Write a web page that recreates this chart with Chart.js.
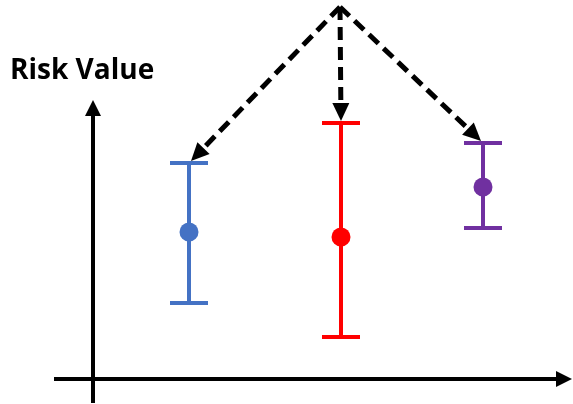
<!DOCTYPE html>
<html>
<head>
<meta charset="utf-8">
<script src="https://cdn.jsdelivr.net/npm/chart.js@4/dist/chart.umd.min.js"></script>
<style>
html, body { margin: 0; padding: 0; background: #fff; }
#wrap { width: 573px; height: 404px; }
</style>
</head>
<body>
<div id="wrap"><canvas id="riskChart" width="573" height="404"></canvas></div>
<script>
// data (arbitrary units, origin = where the axes cross)
var groups = ["A", "B", "C"];
var xPos = [4.8, 12.4, 19.5];
var meanVal = [7.35, 7.1, 9.6];
var upperVal = [10.8, 12.8, 11.8];
var lowerVal = [3.8, 2.1, 7.55];
var colors = ["#4472C4", "#FF0000", "#7030A0"];
var axisTitle = "Risk Value";
// source of the dashed arrows
var arrowFrom = { x: 12.35, y: 18.6 };

var points = [];
for (var i = 0; i < groups.length; i++) {
    points.push({ x: xPos[i], y: meanVal[i] });
}

function arrowHead(ctx, x1, y1, x2, y2, len, wid) {
    var a = Math.atan2(y2 - y1, x2 - x1);
    ctx.save();
    ctx.translate(x2, y2);
    ctx.rotate(a);
    ctx.beginPath();
    ctx.moveTo(0, 0);
    ctx.lineTo(-len, -wid / 2);
    ctx.lineTo(-len, wid / 2);
    ctx.closePath();
    ctx.fill();
    ctx.restore();
}

// error bars under the points
var errorBars = {
    id: "errorBars",
    beforeDatasetsDraw: function(chart) {
        var ctx = chart.ctx;
        var xs = chart.scales.x, ys = chart.scales.y;
        ctx.save();
        ctx.lineWidth = 4;
        for (var i = 0; i < groups.length; i++) {
            var px = xs.getPixelForValue(xPos[i]);
            var top = ys.getPixelForValue(upperVal[i]);
            var bot = ys.getPixelForValue(lowerVal[i]);
            ctx.strokeStyle = colors[i];
            ctx.beginPath();
            ctx.moveTo(px, top); ctx.lineTo(px, bot);
            ctx.moveTo(px - 19, top); ctx.lineTo(px + 19, top);
            ctx.moveTo(px - 19, bot); ctx.lineTo(px + 19, bot);
            ctx.stroke();
        }
        ctx.restore();
    }
};

// axes with arrows, title and the dashed arrows
var decorations = {
    id: "decorations",
    afterDatasetsDraw: function(chart) {
        var ctx = chart.ctx;
        var xs = chart.scales.x, ys = chart.scales.y;
        var x0 = xs.getPixelForValue(0), y0 = ys.getPixelForValue(0);
        ctx.save();
        ctx.fillStyle = "#000";
        ctx.strokeStyle = "#000";
        ctx.lineWidth = 4;
        // x axis
        var xa = xs.getPixelForValue(-1.95), xb = xs.getPixelForValue(23.95);
        ctx.beginPath(); ctx.moveTo(xa, y0); ctx.lineTo(xb - 12, y0); ctx.stroke();
        arrowHead(ctx, xa, y0, xb, y0, 16, 16);
        // y axis
        var ya = ys.getPixelForValue(-1.2), yb = ys.getPixelForValue(13.95);
        ctx.beginPath(); ctx.moveTo(x0, ya); ctx.lineTo(x0, yb + 12); ctx.stroke();
        arrowHead(ctx, x0, ya, x0, yb, 16, 16);

        // dashed arrows to the top of each error bar
        var fx = xs.getPixelForValue(arrowFrom.x), fy = ys.getPixelForValue(arrowFrom.y);
        ctx.lineWidth = 5;
        for (var i = 0; i < groups.length; i++) {
            var tx = xs.getPixelForValue(xPos[i]);
            var ty = ys.getPixelForValue(upperVal[i]) - 2;
            if (i == 0) tx += 2;
            if (i == 2) tx -= 2;
            var a = Math.atan2(ty - fy, tx - fx);
            var ex = tx - Math.cos(a) * 14, ey = ty - Math.sin(a) * 14;
            ctx.setLineDash([13, 7]);
            ctx.beginPath(); ctx.moveTo(fx, fy); ctx.lineTo(ex, ey); ctx.stroke();
            ctx.setLineDash([]);
            arrowHead(ctx, fx, fy, tx, ty, 18, 17);
        }

        ctx.font = "bold 28px 'Open Sans'";
        ctx.textBaseline = "alphabetic";
        ctx.fillText(axisTitle, 10, 79, 157);
        ctx.restore();
    }
};

var chart = new Chart(document.getElementById("riskChart"), {
    type: "scatter",
    data: {
        datasets: [{
            label: "mean",
            data: points,
            pointRadius: 9.5,
            pointBackgroundColor: colors,
            pointBorderWidth: 0,
            clip: false
        }]
    },
    options: {
        responsive: false,
        animation: false,
        layout: { padding: 0, autoPadding: false },
        scales: {
            x: { type: "linear", min: -4.65, max: 24, display: false },
            y: { type: "linear", min: -1.25, max: 18.95, display: false }
        },
        plugins: {
            legend: { display: false },
            tooltip: { enabled: false }
        }
    },
    plugins: [errorBars, decorations]
});
</script>
</body>
</html>
